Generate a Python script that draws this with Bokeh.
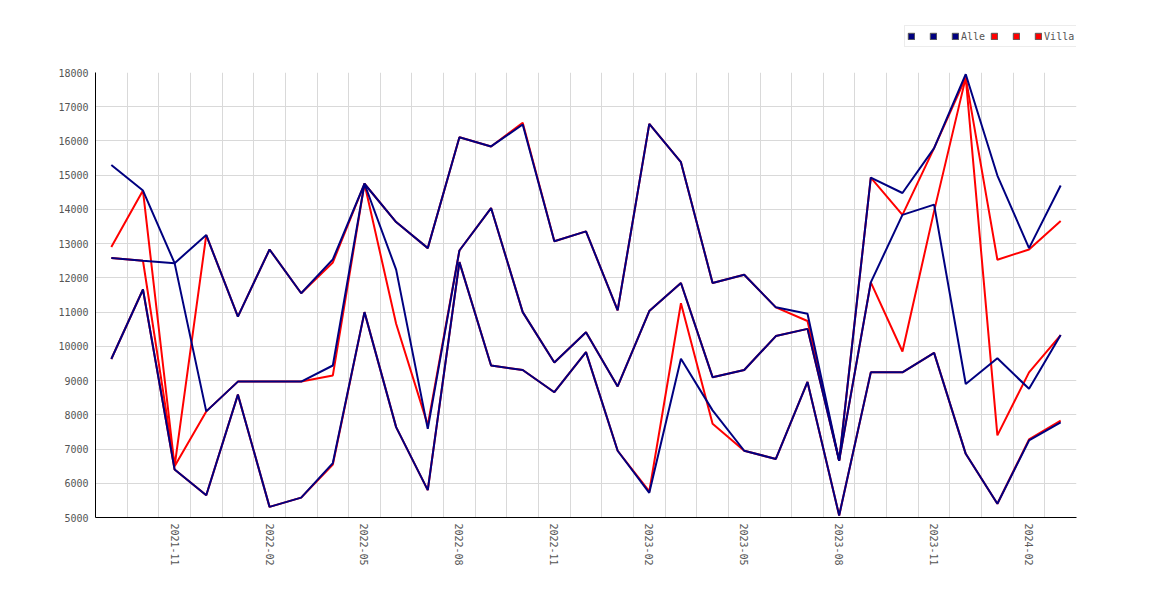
from bokeh.plotting import figure
from bokeh.layouts import column
from bokeh.models import Range1d, FixedTicker, Legend, LegendItem
from bokeh.embed import file_html
from bokeh.resources import INLINE
from bokeh.core.properties import value

months = ["2021-09", "2021-10", "2021-11", "2021-12", "2022-01", "2022-02", "2022-03",
          "2022-04", "2022-05", "2022-06", "2022-07", "2022-08", "2022-09", "2022-10",
          "2022-11", "2022-12", "2023-01", "2023-02", "2023-03", "2023-04", "2023-05",
          "2023-06", "2023-07", "2023-08", "2023-09", "2023-10", "2023-11", "2023-12",
          "2024-01", "2024-02", "2024-03"]
tick_months = ["2021-11", "2022-02", "2022-05", "2022-08", "2022-11", "2023-02",
               "2023-05", "2023-08", "2023-11", "2024-02"]
y_ticks = [5000, 6000, 7000, 8000, 9000, 10000, 11000, 12000, 13000, 14000, 15000,
           16000, 17000, 18000]

alle_1 = [15300, 14550, 12430, 13250, 10870, 12830, 11550, 12540, 14750, 13630, 12870,
          16110, 15840, 16480, 13070, 13360, 11050, 16500, 15380, 11850, 12090, 11140,
          10950, 6660, 14930, 14480, 15790, 17950, 14990, 12870, 14700]
alle_2 = [12580, 12500, 12430, 8100, 8970, 8970, 8970, 9440, 14750, 12240, 7590,
          12800, 14040, 11000, 9530, 10410, 8830, 11030, 11850, 9100, 9310, 10300,
          10510, 6660, 11870, 13840, 14140, 8900, 9650, 8760, 10330]
alle_3 = [9630, 11660, 6400, 5650, 8590, 5310, 5580, 6590, 11000, 7640, 5800,
          12460, 9440, 9310, 8660, 9830, 6950, 5720, 9640, 8130, 6950, 6710,
          8960, 5060, 9240, 9240, 9810, 6860, 5400, 7250, 7780]

villa_1 = [12900, 14550, 6500, 13250, 10870, 12830, 11550, 12450, 14750, 13630, 12870,
           16110, 15840, 16530, 13070, 13360, 11050, 16500, 15380, 11850, 12090, 11140,
           10740, 6660, 14930, 13840, 15790, 17850, 12530, 12830, 13660]
villa_2 = [12580, 12500, 6500, 8100, 8970, 8970, 8970, 9150, 14750, 10660, 7700,
           12800, 14040, 11000, 9530, 10410, 8830, 11030, 11850, 9100, 9310, 10300,
           10510, 6660, 11870, 9850, 13950, 17850, 7400, 9240, 10330]
villa_3 = [9630, 11660, 6400, 5650, 8590, 5310, 5580, 6550, 11000, 7640, 5800,
           12460, 9440, 9310, 8660, 9830, 6950, 5760, 11260, 7740, 6950, 6710,
           8960, 5060, 9240, 9240, 9810, 6860, 5400, 7280, 7830]

series_labels = ["Alle", "Villa"]

NAVY = "#000080"
RED = "#ff0000"
FONT = "DejaVu Sans Mono"
TXT = "#555555"
GRID = "#d9d9d9"
NAN = float("nan")

x = list(range(len(months)))

# ---------------- main chart ----------------
p = figure(width=1160, height=526, output_backend="svg", toolbar_location=None,
           x_range=Range1d(-0.5, len(months) - 0.5),
           y_range=Range1d(y_ticks[0], y_ticks[-1]),
           min_border_left=95, min_border_right=84, min_border_top=8,
           min_border_bottom=73)
p.outline_line_color = None
p.background_fill_color = "white"

# red (Villa) below navy (Alle)
for ys in (villa_1, villa_2, villa_3):
    p.line(x, ys, line_color=RED, line_width=2)
for ys in (alle_1, alle_2, alle_3):
    p.line(x, ys, line_color=NAVY, line_width=2)

xa = p.xaxis[0]
xa.ticker = FixedTicker(ticks=[months.index(m) for m in tick_months])
xa.major_label_overrides = {months.index(m): m for m in tick_months}
xa.major_label_orientation = "vertical"
ya = p.yaxis[0]
ya.ticker = FixedTicker(ticks=y_ticks)
for ax in (xa, ya):
    ax.major_tick_out = 0
    ax.major_tick_in = 0
    ax.minor_tick_out = 0
    ax.minor_tick_in = 0
    ax.axis_line_color = "black"
    ax.axis_line_width = 1
    ax.major_label_text_font = FONT
    ax.major_label_text_font_size = "10px"
    ax.major_label_text_color = TXT
    ax.major_label_standoff = 6
ya.major_label_standoff = 7

p.xgrid.ticker = FixedTicker(ticks=[i + 0.5 for i in x])
p.ygrid.ticker = FixedTicker(ticks=y_ticks)
for g in (p.xgrid[0], p.ygrid[0]):
    g.grid_line_color = GRID
    g.grid_line_width = 1

# ---------------- legend strip (frame aligned with the chart) ----------------
lg = figure(width=1160, height=64, output_backend="svg", toolbar_location=None,
            x_axis_type=None, y_axis_type=None,
            x_range=Range1d(0, 1), y_range=Range1d(0, 1),
            min_border_left=95, min_border_right=84, min_border_top=0,
            min_border_bottom=0)
lg.outline_line_color = None
lg.xgrid.visible = False
lg.ygrid.visible = False

# swatch renderers: one NaN row each, so nothing is drawn in the frame
navy_proxy = lg.quad(left=[NAN], right=[NAN], top=[NAN], bottom=[NAN],
                     fill_color=NAVY, line_color="#555555", line_width=1)
red_proxy = lg.quad(left=[NAN], right=[NAN], top=[NAN], bottom=[NAN],
                    fill_color=RED, line_color="#555555", line_width=1)
items = [
    LegendItem(label=value(""), renderers=[navy_proxy]),
    LegendItem(label=value(""), renderers=[navy_proxy]),
    LegendItem(label=value(series_labels[0]), renderers=[navy_proxy]),
    LegendItem(label=value(""), renderers=[red_proxy]),
    LegendItem(label=value(""), renderers=[red_proxy]),
    LegendItem(label=value(series_labels[1]), renderers=[red_proxy]),
]
legend = Legend(items=items, orientation="horizontal", location=(809, 17),
                glyph_width=8, glyph_height=8, label_standoff=2, label_width=7,
                label_height=16, spacing=5, padding=2, margin=0,
                border_line_color=GRID, border_line_width=1,
                background_fill_color="white", background_fill_alpha=1.0,
                label_text_font=FONT, label_text_font_size="10px",
                label_text_color=TXT)
lg.add_layout(legend, "center")

layout = column(lg, p, spacing=0)
open("out.html", "w").write(file_html(layout, INLINE))
